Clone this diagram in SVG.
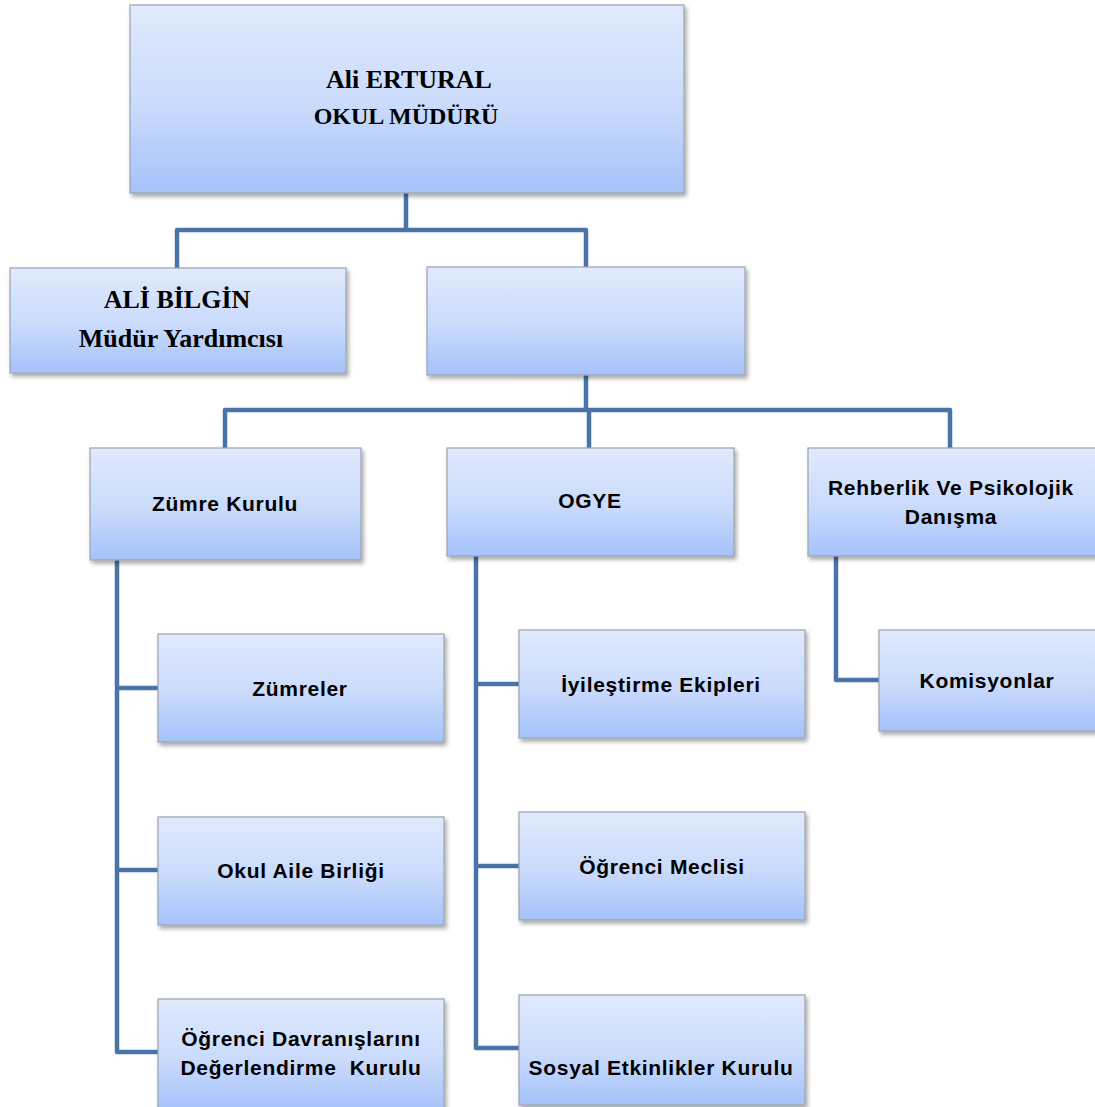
<svg xmlns="http://www.w3.org/2000/svg" width="1095" height="1107" viewBox="0 0 1095 1107">
<style>
.box{fill:url(#g);stroke:#9aa3ae;stroke-width:1.2;filter:url(#sh)}
.conn{fill:none;stroke:#4a74a8;stroke-width:4.5;stroke-linejoin:round}
.tr{font-family:"Liberation Serif",serif;font-weight:bold;fill:#000;text-anchor:middle}
.ts{font-family:"Liberation Sans",Arial,sans-serif;font-weight:bold;font-size:21px;letter-spacing:0.7px;fill:#000;text-anchor:middle}
</style>
<defs>
<linearGradient id="g" x1="0" y1="0" x2="0" y2="1">
<stop offset="0" stop-color="#e1eafd"/>
<stop offset="0.55" stop-color="#c9dafc"/>
<stop offset="1" stop-color="#a5c2fa"/>
</linearGradient>
<filter id="sh" x="-5%" y="-5%" width="115%" height="120%">
<feDropShadow dx="2" dy="3" stdDeviation="2" flood-color="#000" flood-opacity="0.35"/>
</filter>
</defs>
<rect width="1095" height="1107" fill="#fff"/>
<g id="connectors">
<path class="conn" d="M406 193V230H177V268M406 230H586V268"/>
<path class="conn" d="M586 375V410H225V448M586 410H950V448M589 410V448"/>
<path class="conn" d="M117 560V1052H158M117 688H158M117 870H158"/>
<path class="conn" d="M476 556V1048H519M476 684H519M476 866H519"/>
<path class="conn" d="M836 556V680H879"/>
</g>
<g id="mudur"><rect class="box" x="130" y="5" width="554" height="188"/>
<text class="tr" x="409" y="88" font-size="26">Ali ERTURAL</text>
<text class="tr" x="406" y="124" font-size="24">OKUL MÜDÜRÜ</text></g>
<g id="yardimci"><rect class="box" x="10" y="268" width="336" height="105"/>
<text class="tr" x="177" y="308" font-size="26">ALİ BİLGİN</text>
<text class="tr" x="181" y="347" font-size="26">Müdür Yardımcısı</text></g>
<g id="bos"><rect class="box" x="427" y="267" width="318" height="108"/></g>
<g id="zumrekurulu"><rect class="box" x="90" y="448" width="271" height="112"/>
<text class="ts" x="225" y="511">Zümre Kurulu</text></g>
<g id="ogye"><rect class="box" x="447" y="448" width="287" height="108"/>
<text class="ts" x="590" y="508">OGYE</text></g>
<g id="rehberlik"><rect class="box" x="808" y="448" width="290" height="108"/>
<text class="ts" x="951" y="495">Rehberlik Ve Psikolojik</text>
<text class="ts" x="951" y="524">Danışma</text></g>
<g id="zumreler"><rect class="box" x="158" y="634" width="286" height="108"/>
<text class="ts" x="300" y="696">Zümreler</text></g>
<g id="okulaile"><rect class="box" x="158" y="817" width="286" height="108"/>
<text class="ts" x="301" y="878">Okul Aile Birliği</text></g>
<g id="davranis"><rect class="box" x="158" y="999" width="286" height="112"/>
<text class="ts" x="301" y="1046">Öğrenci Davranışlarını</text>
<text class="ts" x="301" y="1075" xml:space="preserve">Değerlendirme  Kurulu</text></g>
<g id="iyilestirme"><rect class="box" x="519" y="630" width="286" height="108"/>
<text class="ts" x="661" y="692">İyileştirme Ekipleri</text></g>
<g id="meclis"><rect class="box" x="519" y="812" width="286" height="108"/>
<text class="ts" x="662" y="874">Öğrenci Meclisi</text></g>
<g id="sosyal"><rect class="box" x="519" y="995" width="286" height="110"/>
<text class="ts" x="661" y="1075">Sosyal Etkinlikler Kurulu</text></g>
<g id="komisyonlar"><rect class="box" x="879" y="630" width="220" height="101"/>
<text class="ts" x="987" y="688">Komisyonlar</text></g>
</svg>
